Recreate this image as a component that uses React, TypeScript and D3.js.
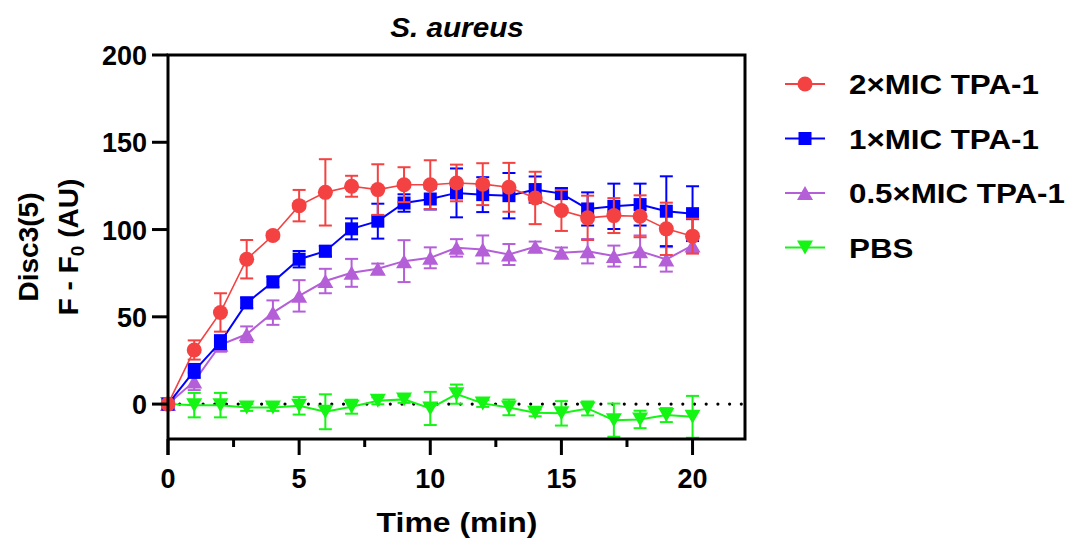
import React from "react";
import * as d3 from "d3";

const times = d3.range(0, 21);

const seriesNames = ["2×MIC TPA-1", "1×MIC TPA-1", "0.5×MIC TPA-1", "PBS"];

const mic2 = [0, 31, 52.5, 83, 96.6, 113.7, 121.3, 124.8, 122.9, 125.7, 125.7, 126.7, 126, 124.2, 118.1, 110.9, 106.7, 108, 107.6, 100.4, 96.2];
const mic2Err = [0, 5.5, 11, 11, 2, 9, 19, 6, 14.5, 10, 14, 10.5, 12, 14, 15, 11.7, 12.7, 10, 12, 15, 10];

const mic1 = [0, 19, 35.5, 58, 70, 83, 87.6, 100.4, 104.8, 115.2, 117.5, 121, 120, 119.4, 122.9, 120.6, 111.8, 113.3, 114.3, 110.5, 109.1];
const mic1Err = [0, 4, 4, 3, 3, 4.7, 3, 6, 10, 5, 6, 14, 10, 13, 7.5, 3, 9.5, 13, 12, 20, 15.7];

const mic05 = [0, 13, 34, 40, 52.4, 62, 70.5, 75.2, 77.5, 81.9, 83.8, 89.5, 88.6, 85.7, 90.1, 86.7, 87.6, 84.8, 87.6, 82.9, 90.9];
const mic05Err = [0, 5, 4, 4.5, 7, 9, 7, 8, 3, 12, 6, 5, 8, 6, 3, 3, 7, 6, 9, 7, 4];

const pbs = [0, -0.6, -0.6, -1.9, -1.9, -1, -4.4, -1.5, 1.9, 2.7, -2.5, 5.7, 0.4, -1.9, -5, -5.3, -2.5, -9.2, -8.8, -6.3, -7.3];
const pbsErr = [0, 7, 7, 2, 2, 5, 10, 4, 2, 2, 9.5, 5.5, 2, 4.5, 2, 7, 4, 9.5, 5, 4, 12];

const xTicks = [0, 5, 10, 15, 20];
const xMinorTicks = [2.5, 7.5, 12.5, 17.5];
const yTicks = [0, 50, 100, 150, 200];

const FONT = "'Liberation Sans', Arial, sans-serif";

type Series = { name: string; values: number[]; errs: number[]; color: string; shape: string; lw: number };

const series: Series[] = [
  { name: seriesNames[0], values: mic2, errs: mic2Err, color: "#f44242", shape: "circle", lw: 1.6 },
  { name: seriesNames[1], values: mic1, errs: mic1Err, color: "#0000ff", shape: "square", lw: 2 },
  { name: seriesNames[2], values: mic05, errs: mic05Err, color: "#b45fd8", shape: "up", lw: 2 },
  { name: seriesNames[3], values: pbs, errs: pbsErr, color: "#14f514", shape: "down", lw: 2 },
];

function Marker({ shape, x, y, color }: { shape: string; x: number; y: number; color: string }) {
  if (shape === "circle") return <circle cx={x} cy={y} r={7.5} fill={color} />;
  if (shape === "square") return <rect x={x - 6.5} y={y - 6.5} width={13} height={13} fill={color} />;
  if (shape === "up")
    return <path d={`M${x},${y - 7} L${x + 8},${y + 7} L${x - 8},${y + 7} Z`} fill={color} />;
  return <path d={`M${x - 8},${y - 7} L${x + 8},${y - 7} L${x},${y + 7} Z`} fill={color} />;
}

export default function App() {
  const width = 1071;
  const height = 542;
  const left = 168, right = 745, top = 55, bottom = 439;

  const x = d3.scaleLinear().domain([0, 22]).range([left, right]);
  const y = d3.scaleLinear().domain([-20, 200]).range([bottom, top]);

  const line = d3
    .line<number>()
    .x((d, i) => x(times[i]))
    .y((d) => y(d));

  // draw order: PBS first, 2xMIC last (on top)
  const drawOrder = [...series].reverse();

  return (
    <svg width={width} height={height} style={{ position: "absolute", left: 0, top: 0 }} fontFamily={FONT} fontWeight="bold">
      <rect width={width} height={height} fill="#fff" />

      {/* title */}
      <text transform="translate(457,37) scale(1.1,1)" textAnchor="middle" fontSize={27} fontStyle="italic">S. aureus</text>

      {/* zero dotted line */}
      <line x1={left} x2={right} y1={y(0)} y2={y(0)} stroke="#000" strokeWidth={3.2} strokeDasharray="0 11.7" strokeLinecap="round" />

      {drawOrder.map((s) => (
        <g key={s.name}>
          <path d={line(s.values) || ""} fill="none" stroke={s.color} strokeWidth={s.lw} />
          {s.values.map((v, i) =>
            s.errs[i] > 0 ? (
              <g key={i} stroke={s.color} strokeWidth={2}>
                <line x1={x(times[i])} x2={x(times[i])} y1={y(v - s.errs[i])} y2={y(v + s.errs[i])} />
                <line x1={x(times[i]) - 6.5} x2={x(times[i]) + 6.5} y1={y(v + s.errs[i])} y2={y(v + s.errs[i])} />
                <line x1={x(times[i]) - 6.5} x2={x(times[i]) + 6.5} y1={y(v - s.errs[i])} y2={y(v - s.errs[i])} />
              </g>
            ) : null
          )}
          {s.values.map((v, i) => (
            <Marker key={i} shape={s.shape} x={x(times[i])} y={y(v)} color={s.color} />
          ))}
        </g>
      ))}

      {/* frame */}
      <path d={`M${left},${bottom + 16} L${left},${top} L${right},${top} L${right},${bottom} L${left},${bottom}`} fill="none" stroke="#000" strokeWidth={3} />

      {/* y axis ticks */}
      {yTicks.map((t) => (
        <g key={t}>
          <line x1={left - 16} x2={left} y1={y(t)} y2={y(t)} stroke="#000" strokeWidth={3} />
          <text x={left - 21} y={y(t) + 10} textAnchor="end" fontSize={27}>{t}</text>
        </g>
      ))}

      {/* x axis ticks */}
      {xTicks.map((t) => (
        <g key={t}>
          <line x1={x(t)} x2={x(t)} y1={bottom} y2={bottom + 16} stroke="#000" strokeWidth={3} />
          <text x={x(t)} y={488} textAnchor="middle" fontSize={27}>{t}</text>
        </g>
      ))}
      {xMinorTicks.map((t) => (
        <line key={t} x1={x(t)} x2={x(t)} y1={bottom} y2={bottom + 8} stroke="#000" strokeWidth={3} />
      ))}

      {/* axis labels */}
      <text transform="translate(457,532) scale(1.14,1)" textAnchor="middle" fontSize={28}>Time (min)</text>
      <g transform={`translate(38,${(top + bottom) / 2}) rotate(-90)`}>
        <text x={0} y={0} textAnchor="middle" fontSize={28}>Disc3(5)</text>
      </g>
      <g transform={`translate(78,${(top + bottom) / 2}) rotate(-90)`}>
        <text x={0} y={0} textAnchor="middle" fontSize={28}>
          F - F<tspan fontSize={19} dy={6}>0</tspan><tspan dy={-6}> (AU)</tspan>
        </text>
      </g>

      {/* legend */}
      {series.map((s, i) => {
        const cy = 84 + i * 54.5;
        return (
          <g key={s.name}>
            <line x1={785} x2={825} y1={cy} y2={cy} stroke={s.color} strokeWidth={2} />
            <Marker shape={s.shape} x={805} y={cy} color={s.color} />
            <text transform={`translate(849,${cy + 10}) scale(1.16,1)`} fontSize={27}>{s.name}</text>
          </g>
        );
      })}
    </svg>
  );
}
